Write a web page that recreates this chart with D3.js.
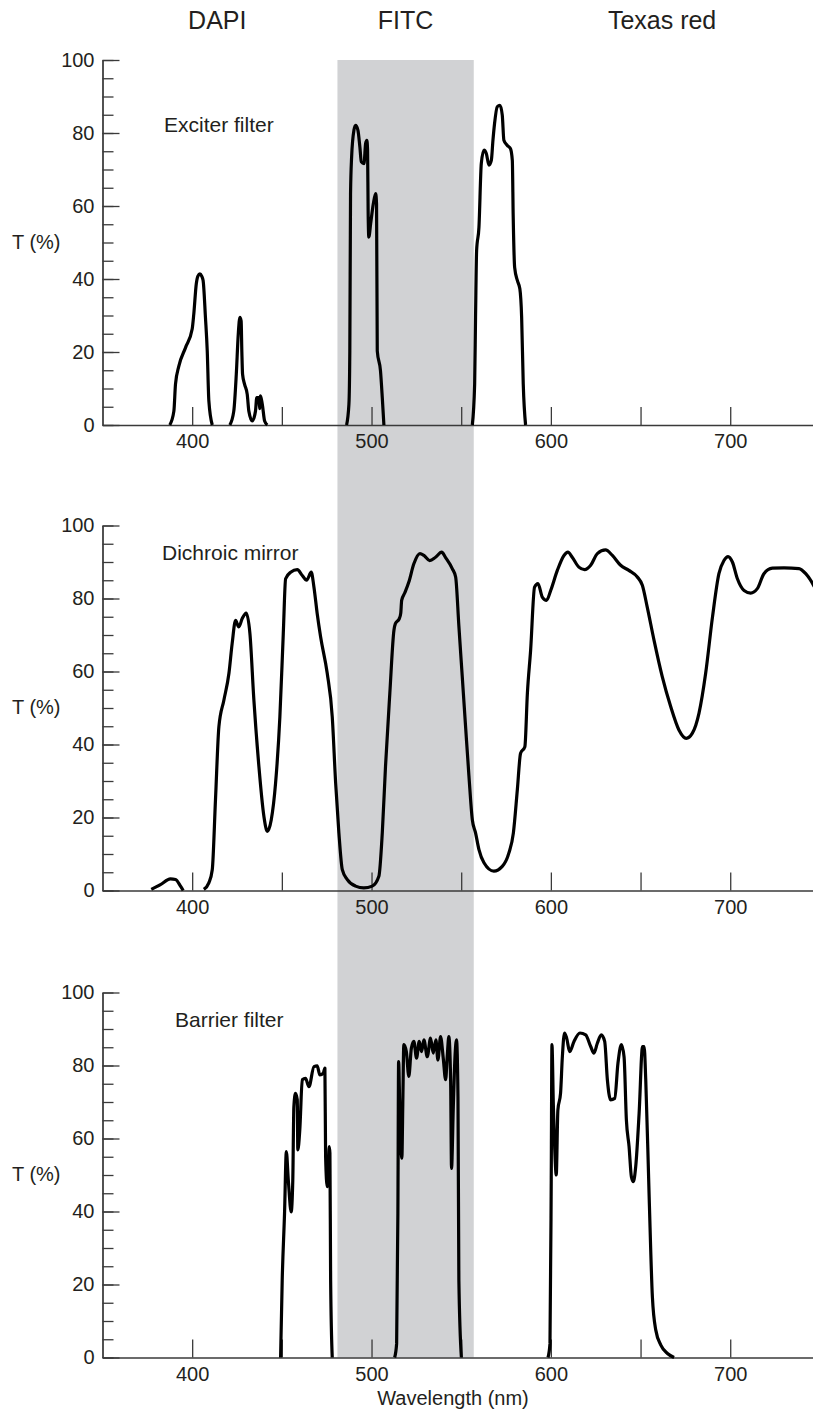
<!DOCTYPE html>
<meta charset="utf-8">
<html>
<head>
    <title>Filter set transmission</title>
    <style>
        body { margin: 0; background: #fff; }
        text { font-family: "Liberation Sans", Arial, Helvetica, sans-serif; fill: #231f20; }
    </style>
    <script src="https://d3js.org/d3.v7.min.js"></script>
</head>
<body>
    <div id="chart"></div>
    <script>
        // headers over the three dye bands
        var dyeNames = ["DAPI", "FITC", "Texas red"];
        var dyeNm = [414, 519, 662];

        // FITC band shading (nm)
        var bandNm = [481, 557];

        // x ticks
        var xTicks = [400, 450, 500, 550, 600, 650, 700, 750];
        var yMajor = [0, 20, 40, 60, 80, 100];
        var yMinor = d3.range(0, 101, 5);

        // exciter filter: [wavelength nm, T %]
        var exciterDapi = [[387.5,0],[389.8,3.8],[390.7,11.2],[392.6,16.2],[396.3,21.2],[400.0,26.3],[400.9,30.4],[402.3,38.7],[403.2,40.8],[404.3,41.4],[405.3,40.8],[406.1,39.6],[407.4,29.5],[408.4,20.3],[409.3,6.6],[411.2,0]];
        var exciterDapi2 = [[421.0,0],[423.2,3.8],[424.6,13.9],[425.7,24.9],[426.6,29.5],[427.3,28.5],[427.7,20],[428.1,13.9],[429.2,11.2],[430.7,8.4],[431.6,3.8],[433.5,1.1],[435.3,3.8],[436.0,7.5],[437.2,7.5],[437.6,4.5],[438.1,8.0],[439.1,5.7],[440.4,1.1],[441.9,0]];
        var exciterFitc = [[486.1,0],[487.4,5.7],[487.9,20.3],[488.3,63.4],[488.9,73.4],[490.2,80.8],[491.1,82.1],[492.4,80.8],[493.5,76.2],[494.3,72.1],[495.8,71.6],[496.7,77.1],[497.4,78.0],[497.8,75.3],[498.1,58.8],[498.5,51.5],[499.5,55.1],[501.0,60.6],[502.3,63.4],[502.8,60.6],[503.2,20.3],[505.0,14.8],[506.0,7.5],[506.9,0]];
        var exciterTexas = [[556.2,0],[557.5,11.2],[558.0,29.5],[558.6,47.8],[559.9,54.2],[561.2,71.6],[562.7,75.3],[564.0,74.4],[565.5,71.2],[566.8,72.5],[567.7,78.0],[568.6,82.6],[570.1,87.2],[571.6,87.6],[572.9,84.9],[573.8,78.0],[575.7,76.6],[577.5,75.7],[578.5,72.5],[579.0,57.0],[579.8,43.2],[581.3,39.6],[582.7,37.3],[583.7,29.5],[584.6,11.2],[585.9,0]];

        // dichroic mirror
        var dichroicBump = [[377.2,0.3],[382.3,1.6],[387.9,3.2],[390.7,3.0],[393.5,1.2],[395.0,0]];
        var dichroicMain = [[406.5,0.3],[409.3,2.1],[411.2,5.7],[413.0,24.9],[414.9,44.9],[417.7,52.2],[420.5,59.5],[422.3,67.7],[424.2,74.0],[426.0,72.2],[427.9,74.5],[430.1,76.0],[432.2,70.4],[434.4,52.2],[437.2,34.0],[440.0,20.3],[441.9,16.2],[444.1,19.4],[446.5,29.4],[448.9,47.6],[450.8,70.4],[452.1,85.4],[454.9,87.2],[458.6,87.9],[461.4,86.3],[463.8,85.0],[466.4,87.2],[467.9,83.1],[469.7,75.9],[471.6,69.5],[475.3,59.5],[478.1,47.6],[480.0,29.4],[481.8,15.8],[483.7,5.7],[486.5,3.0],[491.1,1.2],[495.7,0.7],[500.4,1.2],[504.1,3.9],[506.0,15.8],[507.8,34.0],[510.2,54.0],[512.5,71.3],[513.3,73.1],[515.5,74.5],[516.3,76.0],[516.8,79.5],[518.5,81.5],[520.8,84.5],[523.6,89.5],[527.0,92.3],[529.2,91.8],[532.4,90.4],[535.7,91.3],[539.1,92.7],[541.3,91.2],[545.0,88.2],[546.9,85.9],[548.7,72.5],[550.6,58.5],[552.5,44.5],[554.3,31.5],[556.2,19.4],[558.0,15.8],[559.9,11.2],[562.7,7.6],[568.2,5.3],[572.9,6.6],[576.6,10.3],[579.1,15.8],[581.3,27.6],[583.1,37.6],[585.5,39.4],[586.9,54.0],[588.7,65.8],[590.9,83.1],[592.8,84.1],[595.2,80.4],[597.6,79.5],[599.9,82.2],[603.6,87.7],[607.3,91.8],[609.5,92.7],[611.9,91.3],[615.6,88.6],[618.8,87.9],[622.2,89.1],[625.9,92.3],[630.5,93.3],[634.3,91.8],[638.9,89.1],[643.5,87.7],[648.2,85.9],[651.0,83.6],[653.7,77.7],[657.5,68.6],[662.1,58.6],[666.8,50.4],[671.4,44.0],[675.5,41.7],[678.9,43.1],[682.6,48.6],[686.3,59.5],[690.1,74.9],[693.7,86.8],[696.5,90.4],[698.8,91.5],[701.2,90.0],[704.0,85.4],[707.7,82.2],[711.4,81.5],[715.1,82.7],[718.8,86.8],[723.5,88.3],[730.0,88.4],[738.3,88.2],[742.1,86.8],[746.5,83.6],[750,80]];

        // barrier filter
        var barrierDapi = [[449.3,0],[450.2,21.2],[451.5,39.5],[452.5,56.4],[453.6,48.6],[455.2,39.9],[456.1,48.6],[456.7,68.7],[457.6,72.4],[458.6,70.6],[458.9,56.9],[460.0,62.3],[461.4,76.1],[463.2,76.5],[465.1,74.2],[467.9,79.7],[469.7,79.9],[471.2,77.4],[473.1,77.9],[474.0,79.3],[474.4,55.0],[475.3,46.8],[475.9,50.5],[476.4,57.8],[476.8,56.0],[477.2,21.2],[478.1,0]];
        var barrierFitc = [[512.9,0],[514.0,3.8],[514.7,39.5],[515.1,81.1],[515.8,66.9],[516.9,54.6],[517.5,71.5],[518.0,85.7],[519.4,83.8],[520.8,77.0],[522.2,84.7],[523.6,86.6],[525.1,82.0],[526.6,86.6],[527.9,83.8],[529.2,87.0],[531.1,82.4],[532.9,87.5],[534.4,83.4],[535.9,87.0],[537.0,81.5],[538.5,87.9],[540.0,82.0],[541.3,76.1],[542.2,82.4],[543.1,87.9],[544.1,76.1],[544.6,51.8],[545.6,68.7],[546.5,82.0],[547.4,87.0],[548.2,71.5],[548.7,21.2],[550.1,0]];
        var barrierTexas = [[598.4,0],[599.5,3.8],[600.2,48.6],[600.6,85.7],[601.4,68.7],[602.1,57.8],[603.0,50.0],[603.9,67.8],[605.4,72.4],[606.4,82.4],[607.6,88.9],[608.8,87.5],[610.5,83.8],[612.9,86.6],[616.2,88.9],[619.4,88.4],[622.2,85.2],[624.0,83.4],[625.9,86.1],[628.1,88.4],[630.0,86.6],[631.5,76.1],[633.3,70.6],[635.6,71.0],[637.4,80.6],[639.3,85.7],[640.8,82.4],[642.1,65.1],[643.6,57.8],[644.9,49.5],[646.0,48.2],[647.3,52.3],[649.2,66.9],[651.1,85.2],[652.0,85.2],[652.9,76.1],[654.8,44.0],[656.6,16.6],[658.5,7.5],[661.3,3.4],[665.0,1.1],[668.7,0]];

        var panelLabels = ["Exciter filter", "Dichroic mirror", "Barrier filter"];
        var panelLabelPos = [[384.3, 80.3], [383.2, 90.6], [390.4, 90.5]];  // [nm, T] of label baseline start
        var panelSeries = [
            [exciterDapi, exciterDapi2, exciterFitc, exciterTexas],
            [dichroicBump, dichroicMain],
            [barrierDapi, barrierFitc, barrierTexas]
        ];

        var width = 813, height = 1416;
        var panelTops = [60, 525.5, 992.5], panelH = 365;

        var svg = d3.select("#chart").append("svg")
            .attr("width", width)
            .attr("height", height);

        var x = d3.scaleLinear().domain([350, 750]).range([102.5, 819.9]);

        // gray FITC band through all three panels
        svg.append("rect")
            .attr("x", x(bandNm[0]))
            .attr("width", x(bandNm[1]) - x(bandNm[0]))
            .attr("y", panelTops[0])
            .attr("height", panelTops[2] + panelH - panelTops[0])
            .attr("fill", "#d1d2d4");

        // dye headers
        svg.selectAll(".dye")
            .data(dyeNames)
            .enter().append("text")
            .attr("class", "dye")
            .attr("x", function (d, i) { return x(dyeNm[i]); })
            .attr("y", 29)
            .attr("text-anchor", "middle")
            .attr("font-size", 25)
            .text(function (d) { return d; });

        var line = d3.line().curve(d3.curveMonotoneX);

        panelSeries.forEach(function (series, i) {
            var top = panelTops[i];
            var y = d3.scaleLinear().domain([0, 100]).range([top + panelH, top]);
            var g = svg.append("g");

            // x axis with ticks pointing up
            var xa = g.append("g")
                .attr("transform", "translate(0," + y(0) + ")")
                .call(d3.axisBottom(x).tickValues(xTicks).tickSize(-18).tickSizeOuter(0).tickPadding(9)
                    .tickFormat(function (d) { return d % 100 === 0 ? d : ""; }));

            // y axis: minor then major ticks, pointing right
            var ya1 = g.append("g")
                .attr("transform", "translate(" + x(350) + ",0)")
                .call(d3.axisLeft(y).tickValues(yMinor).tickSize(-11).tickSizeOuter(0).tickFormat(""));
            var ya2 = g.append("g")
                .attr("transform", "translate(" + x(350) + ",0)")
                .call(d3.axisLeft(y).tickValues(yMajor).tickSize(-17).tickSizeOuter(0).tickPadding(8));

            [xa, ya1, ya2].forEach(function (a) {
                a.selectAll("path, line").attr("stroke", "#3a3a3a").attr("stroke-width", 1.3);
                a.selectAll("text").attr("font-size", 20).attr("fill", "#231f20")
                    .attr("font-family", "'Liberation Sans', Arial, Helvetica, sans-serif");
            });

            // T (%) label
            g.append("text")
                .attr("x", 12)
                .attr("y", y(50) + 6)
                .attr("font-size", 20)
                .text("T (%)");

            // panel label
            g.append("text")
                .attr("x", x(panelLabelPos[i][0]))
                .attr("y", y(panelLabelPos[i][1]))
                .attr("font-size", 21)
                .text(panelLabels[i]);

            // curves
            g.selectAll(".curve")
                .data(series)
                .enter().append("path")
                .attr("class", "curve")
                .attr("fill", "none")
                .attr("stroke", "#000")
                .attr("stroke-width", 3.2)
                .attr("stroke-linejoin", "round")
                .attr("d", function (d) {
                    return line(d.map(function (p) { return [x(p[0]), y(p[1])]; }));
                });
        });

        // x axis title
        svg.append("text")
            .attr("x", 453)
            .attr("y", 1405)
            .attr("text-anchor", "middle")
            .attr("font-size", 20)
            .text("Wavelength (nm)");
    </script>
</body>
</html>
